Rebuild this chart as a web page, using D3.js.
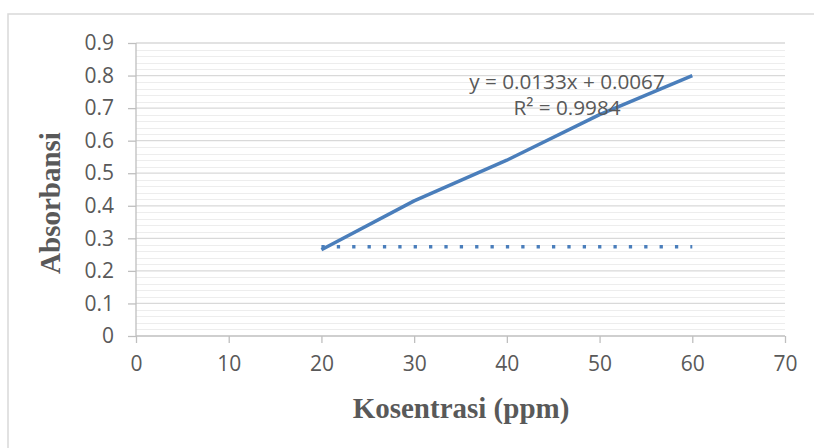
<!DOCTYPE html>
<html>
<head>
<meta charset="utf-8">
<script src="https://cdn.jsdelivr.net/npm/d3@7"></script>
<style>
  html, body { margin: 0; padding: 0; background: #fff; }
  svg { display: block; }
</style>
</head>
<body>
<div id="chart"></div>
<script>
// ---- data ----
const concentrations = [20, 30, 40, 50, 60];
const absorbance = [0.265, 0.415, 0.54, 0.68, 0.8];
const trendX = [20, 60];
const trendY = [0.274, 0.274];
const xTicks = [0, 10, 20, 30, 40, 50, 60, 70];
const yTicks = [0, 0.1, 0.2, 0.3, 0.4, 0.5, 0.6, 0.7, 0.8, 0.9];
const equationText = "y = 0.0133x + 0.0067";
const r2Text = "R² = 0.9984";
const xTitle = "Kosentrasi (ppm)";
const yTitle = "Absorbansi";

// ---- layout ----
const W = 814, H = 448;
const plot = { left: 136, right: 785, top: 43, bottom: 336 };

const svg = d3.select("#chart").append("svg")
  .attr("width", W).attr("height", H);

// outer chart border
svg.append("rect")
  .attr("x", 8).attr("y", 14)
  .attr("width", W + 10).attr("height", H + 10)
  .attr("fill", "#fff")
  .attr("stroke", "#d9d9d9").attr("stroke-width", 1.5);

const x = d3.scaleLinear().domain([0, 70]).range([plot.left, plot.right]);
const y = d3.scaleLinear().domain([0, 0.9]).range([plot.bottom, plot.top]);

// minor gridlines
const minor = d3.range(0, 0.9001, 0.02).filter(v => Math.abs(v * 10 - Math.round(v * 10)) > 1e-6);
svg.append("g").selectAll("line").data(minor).join("line")
  .attr("x1", plot.left).attr("x2", plot.right)
  .attr("y1", d => Math.round(y(d)) + 0.5).attr("y2", d => Math.round(y(d)) + 0.5)
  .attr("stroke", "#ededed").attr("stroke-width", 1.2);

// major gridlines
svg.append("g").selectAll("line").data(yTicks.filter(d => d > 0)).join("line")
  .attr("x1", plot.left).attr("x2", plot.right)
  .attr("y1", d => y(d)).attr("y2", d => y(d))
  .attr("stroke", "#d9d9d9").attr("stroke-width", 1.3);

// y axis
const yAxis = d3.axisLeft(y).tickValues(yTicks)
  .tickFormat(d => d === 0 ? "0" : d3.format(".1f")(d))
  .tickSize(8).tickPadding(14);
const gy = svg.append("g").attr("transform", `translate(${plot.left},0)`).call(yAxis);
gy.select(".domain").attr("stroke", "#bfbfbf").attr("stroke-width", 1.3).attr("d", `M0,${plot.top}V${plot.bottom}`);
gy.selectAll(".tick line").attr("stroke", "#bfbfbf").attr("stroke-width", 1.3);
gy.selectAll(".tick text")
  .attr("fill", "#595959")
  .style("font-family", "'Open Sans', sans-serif").style("font-size", "21px");

// x axis
const xAxis = d3.axisBottom(x).tickValues(xTicks).tickSize(7).tickPadding(13);
const gx = svg.append("g").attr("transform", `translate(0,${plot.bottom})`).call(xAxis);
gx.select(".domain").attr("stroke", "#bfbfbf").attr("stroke-width", 1.3).attr("d", `M${plot.left},0H${plot.right}`);
gx.selectAll(".tick line").attr("stroke", "#bfbfbf").attr("stroke-width", 1.3);
gx.selectAll(".tick text")
  .attr("fill", "#595959")
  .style("font-family", "'Open Sans', sans-serif").style("font-size", "21px");

// dotted trendline
const trendData = trendX.map((d, i) => [d, trendY[i]]);
svg.append("path")
  .datum(trendData)
  .attr("d", d3.line().x(d => x(d[0])).y(d => y(d[1])))
  .attr("fill", "none")
  .attr("stroke", "#4a7ebb").attr("stroke-width", 3.5)
  .attr("stroke-dasharray", "3.3,12.07");

// data line
const lineData = concentrations.map((d, i) => [d, absorbance[i]]);
svg.append("path")
  .datum(lineData)
  .attr("d", d3.line().x(d => x(d[0])).y(d => y(d[1])))
  .attr("fill", "none")
  .attr("stroke", "#4a7ebb").attr("stroke-width", 3.5)
  .attr("stroke-linejoin", "round");

// equation labels
const eq = svg.append("g")
  .style("font-family", "'Open Sans', sans-serif").style("font-size", "20.7px")
  .attr("fill", "#595959").attr("text-anchor", "middle");
eq.append("text").attr("x", 567).attr("y", 89).text(equationText);
eq.append("text").attr("x", 567).attr("y", 115).text(r2Text);

// axis titles
svg.append("text")
  .attr("x", 461).attr("y", 418)
  .attr("text-anchor", "middle")
  .attr("fill", "#595959")
  .style("font-family", "'Liberation Serif', 'Times New Roman', serif")
  .style("font-weight", "bold").style("font-size", "29px")
  .text(xTitle);

svg.append("text")
  .attr("transform", "translate(60,203) rotate(-90)")
  .attr("text-anchor", "middle")
  .attr("fill", "#595959")
  .style("font-family", "'Liberation Serif', 'Times New Roman', serif")
  .style("font-weight", "bold").style("font-size", "29px")
  .text(yTitle);
</script>
</body>
</html>
